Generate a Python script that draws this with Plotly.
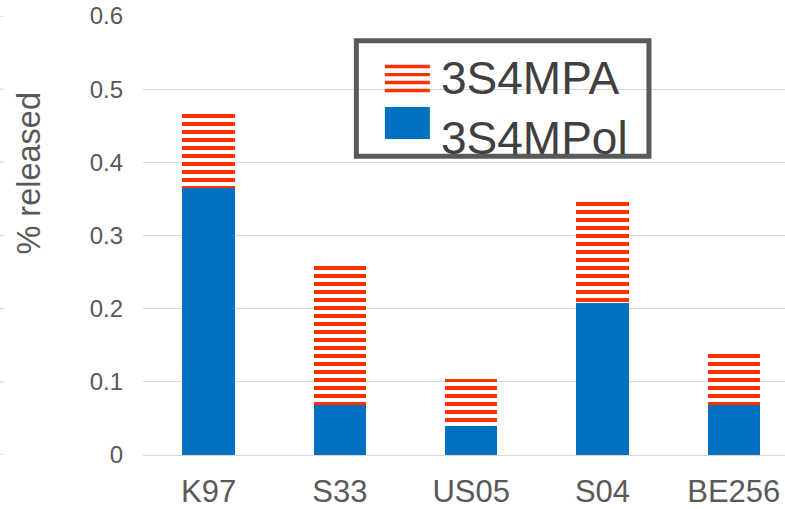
import plotly.graph_objects as go

# Strains and the two released compounds (% released), stacked per strain
strains = ["K97", "S33", "US05", "S04", "BE256"]
pol_values = [0.365, 0.068, 0.039, 0.208, 0.068]   # 3S4MPol (bottom, solid)
pa_values = [0.102, 0.192, 0.065, 0.139, 0.072]    # 3S4MPA (top, striped)
y_ticks = [0, 0.1, 0.2, 0.3, 0.4, 0.5, 0.6]
series_names = ["3S4MPA", "3S4MPol"]

BLUE = "#0070C0"
ORANGE = "#FF3300"
GRID = "#D9D9D9"
TEXT = "#595959"
FONT = "Liberation Sans, Arial, sans-serif"

W, H = 785, 509
L, T, B = 143.2, 16.3, 54.0          # plot area margins in px
PW, PH = W - L, H - T - B


def px_x(p):
    return (p - L) / PW


def px_y(p):
    return (H - B - p) / PH


fig = go.Figure()
fig.add_trace(go.Bar(
    x=strains, y=pol_values, name=series_names[1],
    marker=dict(color=BLUE, line=dict(width=0)),
    width=0.4, showlegend=False,
))
fig.add_trace(go.Bar(
    x=strains, y=pa_values, name=series_names[0],
    marker=dict(
        color=ORANGE, line=dict(width=0),
        pattern=dict(shape="-", fgcolor=ORANGE, bgcolor="white",
                     size=8, solidity=0.5, fillmode="replace"),
    ),
    width=0.4, showlegend=False,
))

shapes = []
# short grey stubs on the far left edge
for v in y_ticks:
    shapes.append(dict(type="line", xref="paper", yref="y",
                       x0=px_x(0), x1=px_x(4), y0=v, y1=v,
                       line=dict(color=GRID, width=1.3), layer="below"))

# legend box
shapes.append(dict(type="rect", xref="paper", yref="paper",
                   x0=px_x(356.5), x1=px_x(649), y0=px_y(41), y1=px_y(156.5),
                   line=dict(color="#595959", width=5), fillcolor="rgba(0,0,0,0)",
                   layer="above"))
# striped swatch
for top in [65, 73.2, 81, 89]:
    shapes.append(dict(type="rect", xref="paper", yref="paper",
                       x0=px_x(385), x1=px_x(430), y0=px_y(top), y1=px_y(top + 3.4),
                       line=dict(width=0), fillcolor=ORANGE, layer="above"))
# solid swatch
shapes.append(dict(type="rect", xref="paper", yref="paper",
                   x0=px_x(385), x1=px_x(430), y0=px_y(107.3), y1=px_y(139.3),
                   line=dict(width=0), fillcolor=BLUE, layer="above"))

annotations = [
    dict(text=series_names[0], xref="paper", yref="paper",
         x=px_x(439), y=px_y(78.5), xanchor="left", yanchor="middle",
         showarrow=False, font=dict(family=FONT, size=46, color="#404040")),
    dict(text=series_names[1], xref="paper", yref="paper",
         x=px_x(439), y=px_y(138.5), xanchor="left", yanchor="middle",
         showarrow=False, font=dict(family=FONT, size=46, color="#404040")),
    dict(text="% released", xref="paper", yref="paper",
         x=px_x(29), y=px_y(173), xanchor="center", yanchor="middle",
         textangle=-90, showarrow=False,
         font=dict(family=FONT, size=32.5, color=TEXT)),
]

fig.update_layout(
    width=W, height=H,
    margin=dict(l=L, r=0, t=T, b=B, pad=0),
    paper_bgcolor="white", plot_bgcolor="white",
    barmode="stack",
    font=dict(family=FONT, color=TEXT),
    shapes=shapes,
    annotations=annotations,
    xaxis=dict(
        type="category", range=[-0.5, 4.39],
        showgrid=False, zeroline=False, showline=False, ticks="",
        tickfont=dict(family=FONT, size=31, color=TEXT),
        ticklabelstandoff=15,
    ),
    yaxis=dict(
        range=[0, 0.6], tickvals=y_ticks, ticktext=["0", "0.1", "0.2", "0.3", "0.4", "0.5", "0.6"],
        showgrid=True, gridcolor=GRID, gridwidth=1.3,
        zeroline=True, zerolinecolor=GRID, zerolinewidth=1.3,
        showline=False, ticks="",
        tickfont=dict(family=FONT, size=24, color=TEXT),
        ticklabelstandoff=19,
    ),
)

fig.write_html("out.html")
